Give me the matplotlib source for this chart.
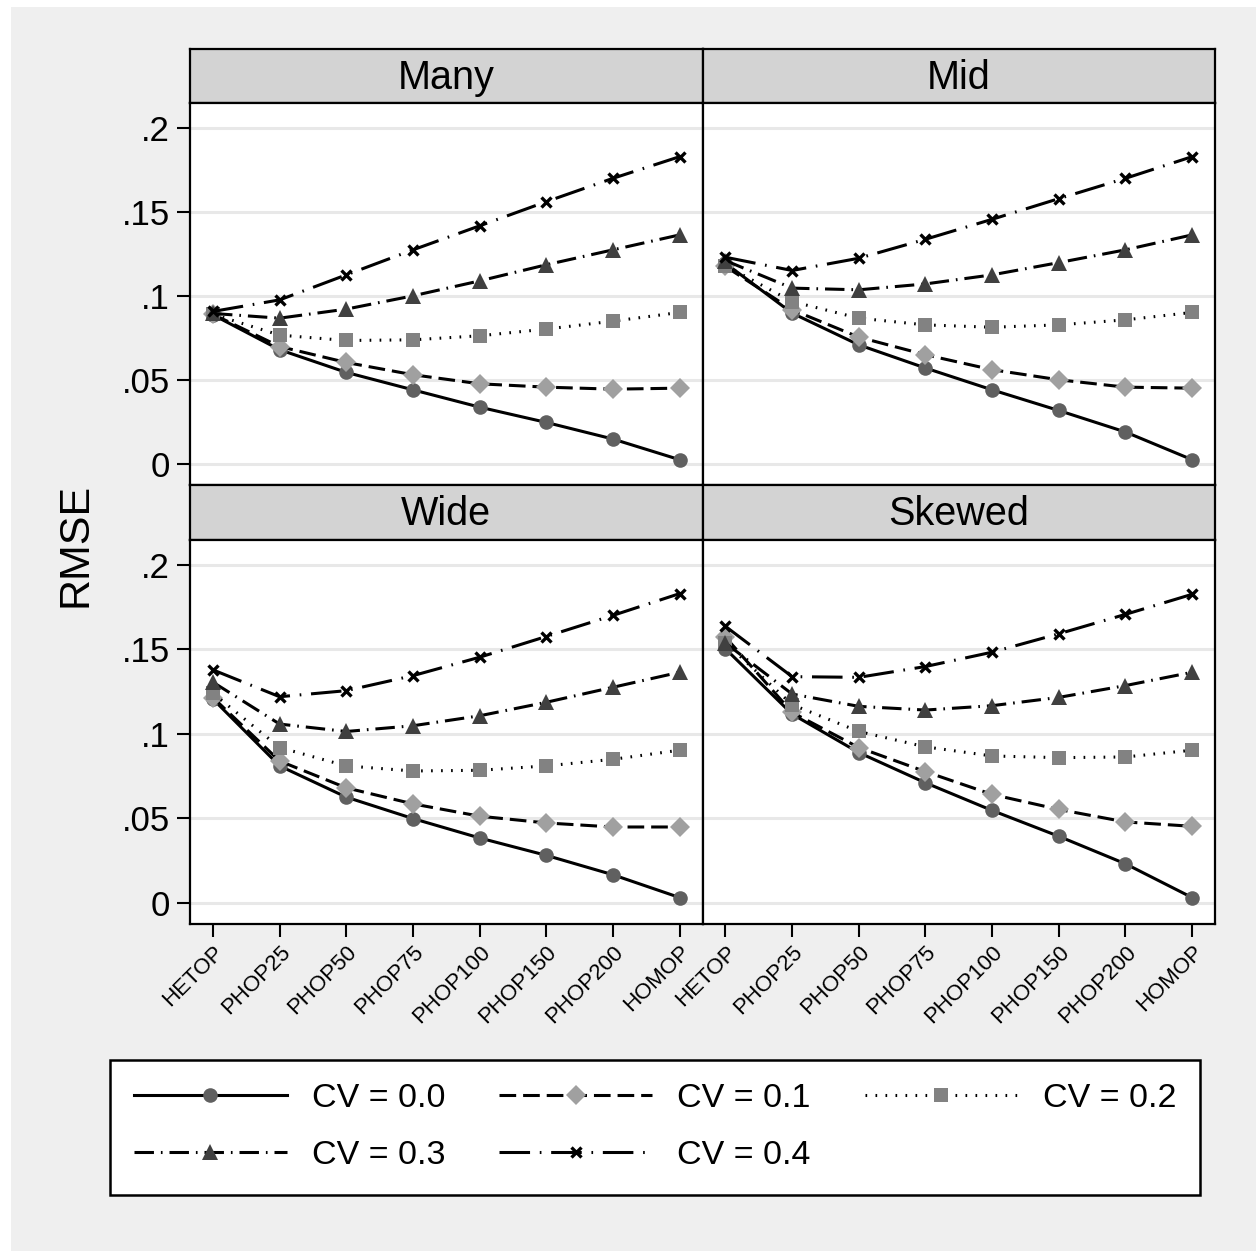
import matplotlib
matplotlib.use("Agg")
import matplotlib.pyplot as plt
from matplotlib import font_manager
from matplotlib.patches import Rectangle
from matplotlib.lines import Line2D

names = {f.name for f in font_manager.fontManager.ttflist}
BASE = "Liberation Sans" if "Liberation Sans" in names else "DejaVu Sans"
plt.rcParams['font.family'] = [BASE, 'DejaVu Sans']
plt.rcParams['lines.scale_dashes'] = False

categories = ["HETOP", "PHOP25", "PHOP50", "PHOP75", "PHOP100", "PHOP150", "PHOP200", "HOMOP"]
panels = ["Many", "Mid", "Wide", "Skewed"]
series_labels = ["CV = 0.0", "CV = 0.1", "CV = 0.2", "CV = 0.3", "CV = 0.4"]
yticks = [0, 0.05, 0.10, 0.15, 0.20]
ytick_labels = ["0", ".05", ".1", ".15", ".2"]

many_cv00 = [0.0887, 0.0679, 0.0544, 0.0440, 0.0337, 0.0246, 0.0147, 0.0024]
many_cv01 = [0.0890, 0.0698, 0.0603, 0.0530, 0.0476, 0.0456, 0.0444, 0.0450]
many_cv02 = [0.0890, 0.0766, 0.0734, 0.0738, 0.0762, 0.0802, 0.0849, 0.0901]
many_cv03 = [0.0895, 0.0867, 0.0921, 0.1000, 0.1089, 0.1185, 0.1274, 0.1363]
many_cv04 = [0.0907, 0.0976, 0.1125, 0.1274, 0.1417, 0.1561, 0.1700, 0.1829]

mid_cv00 = [0.1194, 0.0897, 0.0708, 0.0570, 0.0440, 0.0317, 0.0189, 0.0024]
mid_cv01 = [0.1175, 0.0917, 0.0754, 0.0649, 0.0560, 0.0500, 0.0456, 0.0450]
mid_cv02 = [0.1180, 0.0966, 0.0867, 0.0827, 0.0813, 0.0827, 0.0857, 0.0901]
mid_cv03 = [0.1210, 0.1046, 0.1036, 0.1071, 0.1125, 0.1198, 0.1274, 0.1363]
mid_cv04 = [0.1230, 0.1151, 0.1224, 0.1337, 0.1456, 0.1579, 0.1700, 0.1829]

wide_cv00 = [0.1206, 0.0810, 0.0625, 0.0498, 0.0383, 0.0280, 0.0165, 0.0030]
wide_cv01 = [0.1215, 0.0839, 0.0680, 0.0585, 0.0512, 0.0472, 0.0448, 0.0448]
wide_cv02 = [0.1240, 0.0919, 0.0810, 0.0780, 0.0784, 0.0810, 0.0849, 0.0903]
wide_cv03 = [0.1306, 0.1058, 0.1014, 0.1048, 0.1107, 0.1187, 0.1276, 0.1365]
wide_cv04 = [0.1379, 0.1220, 0.1256, 0.1345, 0.1454, 0.1577, 0.1702, 0.1831]

skew_cv00 = [0.1504, 0.1117, 0.0889, 0.0710, 0.0546, 0.0393, 0.0230, 0.0030]
skew_cv01 = [0.1573, 0.1127, 0.0919, 0.0776, 0.0641, 0.0552, 0.0478, 0.0452]
skew_cv02 = [0.1540, 0.1173, 0.1014, 0.0923, 0.0869, 0.0859, 0.0863, 0.0903]
skew_cv03 = [0.1538, 0.1236, 0.1163, 0.1141, 0.1167, 0.1216, 0.1286, 0.1365]
skew_cv04 = [0.1637, 0.1339, 0.1335, 0.1399, 0.1484, 0.1593, 0.1708, 0.1827]

data = {
    "Many": [many_cv00, many_cv01, many_cv02, many_cv03, many_cv04],
    "Mid": [mid_cv00, mid_cv01, mid_cv02, mid_cv03, mid_cv04],
    "Wide": [wide_cv00, wide_cv01, wide_cv02, wide_cv03, wide_cv04],
    "Skewed": [skew_cv00, skew_cv01, skew_cv02, skew_cv03, skew_cv04],
}

styles = [
    dict(ls='-', marker='o', mfc='#606060', mec='#606060', ms=10.5, mew=0),
    dict(ls=(0, (12, 5)), marker='D', mfc='#a0a0a0', mec='#a0a0a0', ms=10, mew=0),
    dict(ls=(0, (1.2, 6)), marker='s', mfc='#828282', mec='#828282', ms=10, mew=0),
    dict(ls=(0, (14, 5, 1.2, 5)), marker='^', mfc='#404040', mec='#404040', ms=12, mew=0),
    dict(ls=(0, (22, 7, 1.2, 7)), marker='x', mfc='black', mec='black', ms=7.5, mew=2.4),
]

W, H = 1256, 1251
fig = plt.figure(figsize=(W / 100, H / 100), dpi=100)
fig.patch.set_facecolor('white')
fig.add_artist(Rectangle((11 / W, 0), 1 - 11 / W, 1 - 7 / H, transform=fig.transFigure,
                         facecolor='#efefef', edgecolor='none', zorder=-10))

def fx(px):
    return px / W

def fy(py):
    return 1 - py / H

cols = [(190, 702.5), (702.5, 1215)]
rows = [(49, 103, 485), (485, 540, 924)]
xlim = (-0.345, 7.345)
ylim = (-0.0127, 0.2149)

for idx, name in enumerate(panels):
    r, c = divmod(idx, 2)
    (l, rr) = cols[c]
    (st, pt, pb) = rows[r]
    sax = fig.add_axes([fx(l), fy(pt), fx(rr) - fx(l), fy(st) - fy(pt)])
    sax.set_facecolor('#d3d3d3')
    sax.set_xticks([]); sax.set_yticks([])
    for sp in sax.spines.values():
        sp.set_linewidth(1.6); sp.set_color('black')
    sax.text(0.5, 0.47, name, ha='center', va='center', fontsize=28.5, transform=sax.transAxes)

    ax = fig.add_axes([fx(l), fy(pb), fx(rr) - fx(l), fy(pt) - fy(pb)])
    ax.set_facecolor('white')
    x = list(range(len(categories)))
    for vals, st_, lab in zip(data[name], styles, series_labels):
        ax.plot(x, vals, color='black', lw=2.2, label=lab, **st_)
    ax.set_xlim(*xlim)
    ax.set_ylim(*ylim)
    ax.set_yticks(yticks)
    for yv in yticks:
        ax.axhline(yv, color='#e8e8e8', lw=2.2, zorder=0)
    for sp in ax.spines.values():
        sp.set_linewidth(1.6); sp.set_color('black')
    if c == 0:
        ax.set_yticklabels(ytick_labels, fontsize=25)
        ax.tick_params(axis='y', length=9.5, width=1.5, pad=5)
    else:
        ax.tick_params(axis='y', length=0, labelleft=False)
    ax.set_xticks(x)
    if r == 1:
        ax.set_xticklabels(categories, rotation=45, ha='right', va='top',
                           rotation_mode='anchor', fontsize=16)
        ax.tick_params(axis='x', length=9.5, width=1.5, pad=3)
    else:
        ax.tick_params(axis='x', length=0, labelbottom=False)

fig.text(fx(75), fy(545), "RMSE", rotation=90, ha='center', va='center', fontsize=31)

handles = [Line2D([], [], color='black', lw=2.2, **s) for s in styles]
order = [0, 3, 1, 4, 2]
leg = fig.legend([handles[i] for i in order], [series_labels[i] for i in order],
                 loc='lower left',
                 bbox_to_anchor=(fx(110), fy(1195), fx(1200) - fx(110), fy(1053) - fy(1195)),
                 mode='expand', ncol=3, numpoints=1, fontsize=24.5, handlelength=4.5,
                 handletextpad=0.73, columnspacing=1.5, labelspacing=0.76,
                 borderpad=0.7, borderaxespad=0, fancybox=False, edgecolor='black',
                 framealpha=1)
leg.get_frame().set_linewidth(1.8)

fig.savefig("out.png", dpi=100, facecolor=fig.get_facecolor())
